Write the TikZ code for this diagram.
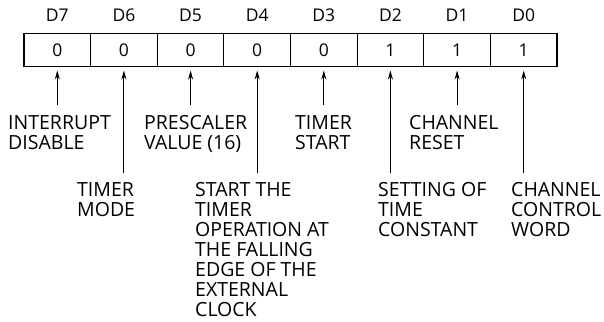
\documentclass[tikz,border=0pt]{standalone}
\usepackage{fontspec}
\setmainfont{Open Sans}
\usetikzlibrary{arrows.meta}
\begin{document}
\begin{tikzpicture}[x=1pt,y=1pt,
  cell/.style={draw,line width=1.1pt,minimum width=66.6pt,minimum height=33.3pt,inner sep=0pt,
    font=\fontsize{17.5}{17.5}\selectfont},
  bitlbl/.style={anchor=base,inner sep=0pt,font=\fontsize{17.5}{17.5}\selectfont},
  desc/.style={anchor=north west,inner sep=0pt,align=left,font=\fontsize{19.5}{20}\selectfont},
  ptr/.style={line width=0.9pt,-{Stealth[length=9pt,width=5pt]},shorten >=3.3pt}]
\useasboundingbox (0,0) rectangle (604,-321);
% register cells
\node[cell] (c7) at (57.3,-50) {0};
\node[cell] (c6) at (123.9,-50) {0};
\node[cell] (c5) at (190.6,-50) {0};
\node[cell] (c4) at (257.2,-50) {0};
\node[cell] (c3) at (323.8,-50) {0};
\node[cell] (c2) at (390.4,-50) {1};
\node[cell] (c1) at (457.1,-50) {1};
\node[cell] (c0) at (523.7,-50) {1};
% bit names
\foreach \i in {0,...,7}{
  \node[bitlbl] (b\i) at ([yshift=11.6pt]c\i.north) {D\i};
}
% free ends of pointers
\coordinate (e7) at (57.3,-105);
\coordinate (e6) at (123.9,-173);
\coordinate (e5) at (190.6,-105);
\coordinate (e4) at (257.2,-173);
\coordinate (e3) at (323.8,-105);
\coordinate (e2) at (390.4,-173);
\coordinate (e1) at (457.1,-105);
\coordinate (e0) at (523.7,-173);
\foreach \i in {0,...,7}{
  \draw[ptr] (e\i) -- (c\i.south);
}
% descriptions
\node[desc] (d7) at (8,-115) {INTERRUPT\\DISABLE};
\node[desc] (d5) at (144,-115) {PRESCALER\\VALUE (16)};
\node[desc] (d3) at (295,-115) {TIMER\\START};
\node[desc] (d1) at (409,-115) {CHANNEL\\RESET};
\node[desc] (d6) at (77,-182.5) {TIMER\\MODE};
\node[desc] (d4) at (195,-182.5) {START THE\\TIMER\\OPERATION AT\\THE FALLING\\EDGE OF THE\\EXTERNAL\\CLOCK};
\node[desc] (d2) at (378,-182.5) {SETTING OF\\TIME\\CONSTANT};
\node[desc] (d0) at (511,-182.5) {CHANNEL\\CONTROL\\WORD};
\end{tikzpicture}
\end{document}
